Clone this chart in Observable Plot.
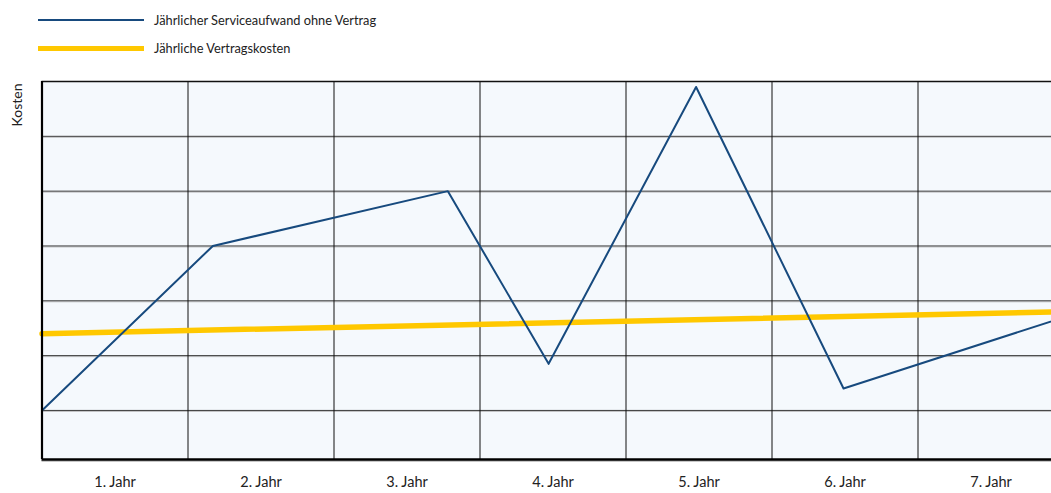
<!DOCTYPE html>
<html>
<head>
<meta charset="utf-8">
<script src="https://cdn.jsdelivr.net/npm/d3@7"></script>
<script src="https://cdn.jsdelivr.net/npm/@observablehq/plot@0.6"></script>
<style>
  html, body { margin: 0; padding: 0; background: #fff; overflow: hidden; }
  body { width: 1051px; height: 493px; font-family: Lato, "Open Sans", sans-serif; color: #222; }
  #legend { position: relative; height: 66px; }
  .item { position: absolute; left: 38px; display: flex; align-items: center; font-size: 12.8px; }
  .swatch { width: 106px; margin-right: 10px; }
  #chart svg { display: block; max-width: none; }
</style>
</head>
<body>
<div id="legend"></div>
<div id="chart"></div>
<script>
// ---- data ----
const years = ["1. Jahr", "2. Jahr", "3. Jahr", "4. Jahr", "5. Jahr", "6. Jahr", "7. Jahr"];
const seriesNames = ["Jährlicher Serviceaufwand ohne Vertrag", "Jährliche Vertragskosten"];
const seriesColors = ["#174a7e", "#ffc800"];
// service cost without contract (x in years from start, y in cost units)
const serviceX = [0, 1.17, 2.78, 3.47, 4.48, 5.49, 7];
const serviceCost = [1.0, 4.0, 5.0, 1.85, 6.9, 1.4, 2.7];
// yearly contract cost
const contractX = [0, 7];
const contractCost = [2.4, 2.8];
const gridX = [1, 2, 3, 4, 5, 6];
const gridY = [1, 2, 3, 4, 5, 6];

// ---- legend ----
const legend = document.getElementById("legend");
const legendTops = [12, 40];
const legendWidths = [2, 5];
seriesNames.forEach((name, i) => {
  const d = document.createElement("div");
  d.className = "item";
  d.style.top = legendTops[i] + "px";
  d.style.height = "16px";
  const s = document.createElement("div");
  s.className = "swatch";
  s.style.height = legendWidths[i] + "px";
  s.style.background = seriesColors[i];
  const t = document.createElement("span");
  t.textContent = name;
  d.appendChild(s); d.appendChild(t);
  legend.appendChild(d);
});

// ---- chart ----
const service = serviceX.map((x, i) => ({x, y: serviceCost[i]}));
const contract = contractX.map((x, i) => ({x, y: contractCost[i]}));
const tickPos = years.map((_, i) => i + 0.5);

const chart = Plot.plot({
  width: 1051,
  height: 427,
  marginTop: 15,
  marginBottom: 34,
  marginLeft: 41.5,
  marginRight: 0,
  style: {fontFamily: "Lato, 'Open Sans', sans-serif", fontSize: "14px", color: "#222", background: "#fff"},
  x: {domain: [0, 7], range: [41.5, 1063.5], axis: null},
  y: {domain: [0.105, 7], axis: null},
  marks: [
    Plot.rect([0], {x1: 0, x2: 7, y1: 0.105, y2: 7, fill: "#f5f9fd"}),
    Plot.ruleY(gridY, {y: d => d, x1: 0, x2: 7, stroke: "#999", strokeWidth: 1, dy: 1, strokeOpacity: 0.6}),
    Plot.ruleY(gridY, {y: d => d, x1: 0, x2: 7, stroke: "#3a3a3a", strokeWidth: 1}),
    Plot.ruleX(gridX, {x: d => d, y1: 0.105, y2: 7, stroke: "#111", strokeWidth: 1}),
    Plot.ruleY([7], {x1: 0, x2: 7, stroke: "#111", strokeWidth: 1.3}),
    Plot.line(contract, {x: "x", y: "y", stroke: seriesColors[1], strokeWidth: 5.5}),
    Plot.line(service, {x: "x", y: "y", stroke: seriesColors[0], strokeWidth: 2}),
    Plot.ruleX([0], {y1: 0.105, y2: 7, stroke: "#000", strokeWidth: 2.2}),
    Plot.ruleY([0.105], {x1: 0, x2: 7, stroke: "#c8c8c8", strokeWidth: 2, dy: 1.5}),
    Plot.ruleY([0.105], {x1: 0, x2: 7, stroke: "#000", strokeWidth: 2.5}),
    Plot.axisX(tickPos, {tickSize: 0, tickPadding: 17, tickFormat: (d, i) => years[i], fontSize: 14.5, fill: "#222", label: null}),
    Plot.text(["Kosten"], {frameAnchor: "top-left", rotate: -90, textAnchor: "end", lineAnchor: "middle", dx: -24, dy: 2, fontSize: 14, fill: "#222"})
  ]
});
document.getElementById("chart").appendChild(chart);
</script>
</body>
</html>
